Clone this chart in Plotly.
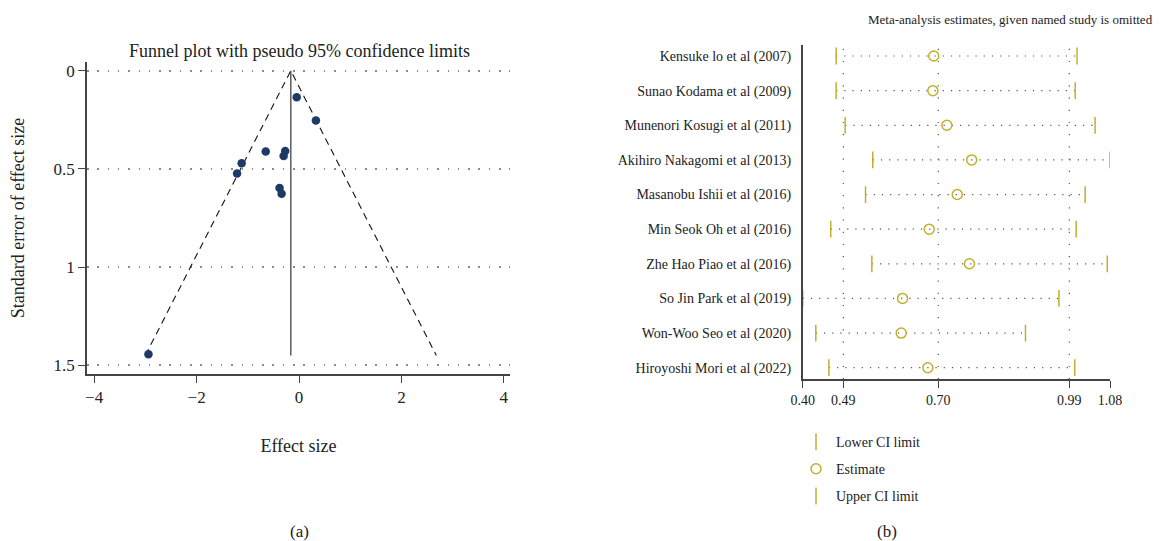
import plotly.graph_objects as go

# ---- Panel (a): funnel plot data ----
effect_size = [-0.045, 0.33, -0.65, -0.27, -0.30, -1.12, -1.21, -0.38, -0.34, -2.94]
std_error = [0.135, 0.254, 0.412, 0.409, 0.434, 0.471, 0.524, 0.597, 0.626, 1.443]
pooled_effect = -0.16
funnel_se_max = 1.45
z95 = 1.96

# ---- Panel (b): leave-one-out sensitivity data ----
studies = [
    "Kensuke lo et al (2007)",
    "Sunao Kodama et al (2009)",
    "Munenori Kosugi et al (2011)",
    "Akihiro Nakagomi et al (2013)",
    "Masanobu Ishii et al (2016)",
    "Min Seok Oh et al (2016)",
    "Zhe Hao Piao et al (2016)",
    "So Jin Park et al (2019)",
    "Won-Woo Seo et al (2020)",
    "Hiroyoshi Mori et al (2022)",
]
lower_ci = [0.474, 0.474, 0.494, 0.555, 0.539, 0.462, 0.553, 0.400, 0.429, 0.458]
estimate = [0.690, 0.688, 0.719, 0.774, 0.742, 0.680, 0.769, 0.621, 0.618, 0.677]
upper_ci = [1.007, 1.003, 1.047, 1.080, 1.025, 1.005, 1.074, 0.967, 0.893, 1.002]
overall_ci = [0.49, 0.70, 0.99]
x_ticks_b = [0.40, 0.49, 0.70, 0.99, 1.08]

FONT = "Liberation Serif"
TXT = "#222222"
NAVY = "#1d3a66"
OLIVE = "#c2b02a"

W, H = 1161, 541


def px_x(p):
    return p / W


def px_y(p):
    return 1 - p / H


fig = go.Figure()

# funnel limits (pseudo 95%)
fig.add_trace(go.Scatter(
    x=[pooled_effect - z95 * funnel_se_max, pooled_effect, pooled_effect + z95 * funnel_se_max],
    y=[funnel_se_max, 0, funnel_se_max],
    mode="lines", line=dict(color="#111111", width=1.1, dash="7px,5px"),
    xaxis="x", yaxis="y", showlegend=False, hoverinfo="skip"))
# pooled effect line
fig.add_trace(go.Scatter(
    x=[pooled_effect, pooled_effect], y=[0, funnel_se_max],
    mode="lines", line=dict(color="#444444", width=1.3),
    xaxis="x", yaxis="y", showlegend=False, hoverinfo="skip"))
# study points
fig.add_trace(go.Scatter(
    x=effect_size, y=std_error, mode="markers",
    marker=dict(color=NAVY, size=8.5),
    xaxis="x", yaxis="y", showlegend=False))

# panel (b): dotted CI lines
rows = list(range(len(studies)))
seg_x, seg_y = [], []
for i in rows:
    seg_x += [lower_ci[i], upper_ci[i], None]
    seg_y += [i, i, None]
fig.add_trace(go.Scatter(
    x=seg_x, y=seg_y, mode="lines",
    line=dict(color="#555555", width=1.2, dash="1.2px,7px"),
    xaxis="x2", yaxis="y2", showlegend=False, hoverinfo="skip"))

fig.add_trace(go.Scatter(
    x=lower_ci, y=rows, mode="markers", name="Lower CI limit",
    marker=dict(symbol="line-ns", size=12, line=dict(color=OLIVE, width=1.5)),
    xaxis="x2", yaxis="y2", legendgroup="a"))
fig.add_trace(go.Scatter(
    x=estimate, y=rows, mode="markers", name="Estimate",
    marker=dict(symbol="circle-open", size=10, color=OLIVE, line=dict(color=OLIVE, width=1.5)),
    xaxis="x2", yaxis="y2", legendgroup="b"))
fig.add_trace(go.Scatter(
    x=upper_ci, y=rows, mode="markers", name="Upper CI limit",
    marker=dict(symbol="line-ns", size=12, line=dict(color=OLIVE, width=1.5)),
    xaxis="x2", yaxis="y2", legendgroup="c"))

# vertical reference lines at overall estimate and its CI
shapes = []
for v in overall_ci:
    shapes.append(dict(type="line", xref="x2", yref="y2 domain", x0=v, x1=v, y0=0, y1=1,
                       line=dict(color="#555555", width=1.2, dash="1.2px,11px"), layer="below"))

tick_font = dict(family=FONT, size=17, color=TXT)

fig.update_layout(
    width=W, height=H,
    margin=dict(l=0, r=0, t=0, b=0, autoexpand=False),
    paper_bgcolor="white", plot_bgcolor="white",
    font=dict(family=FONT, color=TXT),
    shapes=shapes,
    xaxis=dict(
        domain=[px_x(87), px_x(510)], range=[-4.14, 4.12], automargin=False,
        tickvals=[-4, -2, 0, 2, 4], ticks="outside", ticklen=7, tickwidth=1.3, tickcolor="#444",
        showline=True, linecolor="#444", linewidth=1.5, showgrid=False, zeroline=False,
        tickfont=tick_font,
        title=dict(text="Effect size", font=dict(family=FONT, size=18, color=TXT), standoff=33),
        anchor="y"),
    yaxis=dict(
        domain=[px_y(374), px_y(62)], range=[1.544, -0.044], automargin=False,
        tickvals=[0, 0.5, 1, 1.5], ticktext=["0", "0.5", "1", "1.5"],
        ticks="outside", ticklen=7, tickwidth=1.3, tickcolor="#444",
        showline=True, linecolor="#444", linewidth=1.5,
        showgrid=True, gridcolor="#8a8a8a", gridwidth=1.5, griddash="1.5px,8.8px",
        zeroline=False, tickfont=tick_font,
        title=dict(text="Standard error of effect size", font=dict(family=FONT, size=18, color=TXT), standoff=24),
        anchor="x"),
    xaxis2=dict(
        domain=[px_x(802.7), px_x(1110)], range=[0.40, 1.08], automargin=False,
        tickvals=x_ticks_b, ticktext=[f"{v:.2f}" for v in x_ticks_b],
        ticks="outside", ticklen=7, tickwidth=1.3, tickcolor="#444",
        showline=True, linecolor="#444", linewidth=1.5, showgrid=False, zeroline=False,
        tickfont=dict(family=FONT, size=14, color=TXT), anchor="y2"),
    yaxis2=dict(
        domain=[px_y(379.3), px_y(45)], range=[9.335, -0.318], automargin=False,
        tickvals=rows, ticktext=studies, ticks="", ticklabelstandoff=7,
        showline=True, linecolor="#444", linewidth=1.5, showgrid=False, zeroline=False,
        tickfont=dict(family=FONT, size=14, color=TXT), anchor="x2"),
    legend=dict(
        x=px_x(796), y=px_y(426), xanchor="left", yanchor="top",
        font=dict(family=FONT, size=14, color=TXT),
        tracegroupgap=6, bgcolor="rgba(0,0,0,0)", itemwidth=30),
    annotations=[
        dict(text="Funnel plot with pseudo 95% confidence limits", x=px_x(299), y=px_y(51),
             xref="paper", yref="paper", showarrow=False, xanchor="center", yanchor="middle",
             font=dict(family=FONT, size=18, color=TXT)),
        dict(text="Meta-analysis estimates, given named study is omitted", x=px_x(1155), y=px_y(19),
             xref="paper", yref="paper", showarrow=False, xanchor="right", yanchor="middle",
             font=dict(family=FONT, size=13, color=TXT)),
        dict(text="(a)", x=px_x(299), y=px_y(531), xref="paper", yref="paper", showarrow=False,
             xanchor="center", yanchor="middle", font=dict(family=FONT, size=17, color=TXT)),
        dict(text="(b)", x=px_x(887), y=px_y(531), xref="paper", yref="paper", showarrow=False,
             xanchor="center", yanchor="middle", font=dict(family=FONT, size=17, color=TXT)),
    ],
)

fig.write_html("out.html")
